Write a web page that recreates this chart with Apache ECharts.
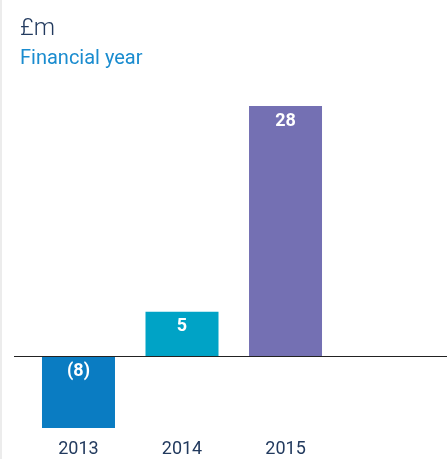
<!DOCTYPE html>
<html>
<head>
<meta charset="utf-8">
<script src="https://cdn.jsdelivr.net/npm/echarts@6/dist/echarts.min.js"></script>
<style>
  html, body { margin: 0; padding: 0; background: #fff; }
  #chart { width: 447px; height: 459px; }
</style>
</head>
<body>
<div id="chart"></div>
<script>
// financial year values, £m
const years = ['2013', '2014', '2015'];
const values = [-8, 5, 28];
const barColors = ['#0a7cc2', '#00a3c6', '#7470b3'];

const chart = echarts.init(document.getElementById('chart'));

const fmt = v => (v < 0 ? '(' + Math.abs(v) + ')' : String(v));

chart.setOption({
  animation: false,
  title: [
    { text: '£m', left: 15, top: 12, textStyle: { fontFamily: 'Roboto', fontSize: 24, fontWeight: 300, color: '#223a5e' } },
    { text: 'Financial year', left: 15, top: 44, textStyle: { fontFamily: 'Roboto', fontSize: 20, fontWeight: 'normal', color: '#1a8ccf' } }
  ],
  graphic: [
    { type: 'rect', left: 0, top: 0, shape: { width: 2, height: 459 }, style: { fill: '#ececec' } }
  ],
  grid: { left: 14, right: 0, top: 106, bottom: 31 },
  xAxis: {
    type: 'value',
    min: -0.623,
    max: 3.56,
    splitLine: { show: false },
    axisLine: { show: false },
    axisTick: { show: false },
    axisLabel: {
      customValues: [0, 1, 2],
      formatter: v => years[Math.round(v)] || '',
      margin: 12,
      fontFamily: 'Roboto',
      fontSize: 18,
      color: '#223a5e'
    }
  },
  yAxis: {
    type: 'value',
    min: -8,
    max: 28,
    show: false
  },
  series: [{
    type: 'bar',
    barWidth: 73,
    data: values.map((v, i) => ({
      value: [i, v],
      itemStyle: { color: barColors[i] }
    })),
    label: {
      show: true,
      position: 'insideTop',
      distance: 6,
      color: '#fff',
      fontFamily: 'Roboto',
      fontWeight: 'bold',
      fontSize: 18,
      formatter: p => fmt(p.value[1])
    },
    markLine: {
      silent: true,
      symbol: 'none',
      label: { show: false },
      lineStyle: { color: '#222', width: 1, type: 'solid' },
      data: [{ yAxis: 0 }]
    }
  }]
});
</script>
</body>
</html>
